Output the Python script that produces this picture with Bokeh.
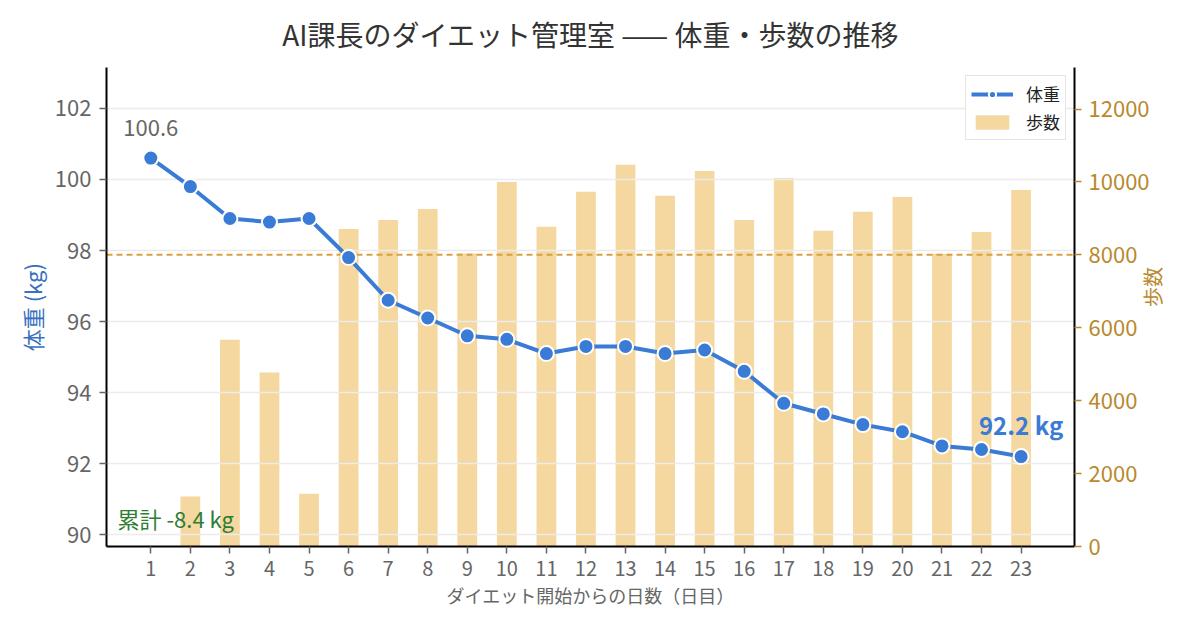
import math

from bokeh.plotting import figure
from bokeh.models import Range1d, LinearAxis, Span, Label, Legend, LegendItem, FixedTicker
from bokeh.embed import file_html
from bokeh.resources import INLINE

# data
days = list(range(1, 24))
weight = [100.6, 99.8, 98.9, 98.8, 98.9, 97.8, 96.6, 96.1, 95.6, 95.5, 95.1, 95.3,
          95.3, 95.1, 95.2, 94.6, 93.7, 93.4, 93.1, 92.9, 92.5, 92.4, 92.2]
steps = [0, 1370, 5670, 4770, 1450, 8710, 8960, 9260, 8040, 10000, 8770, 9730,
         10470, 9620, 10300, 8960, 10110, 8660, 9180, 9590, 8030, 8630, 9780]
step_goal = 8000
weight_ticks = [90, 92, 94, 96, 98, 100, 102]
step_ticks = [0, 2000, 4000, 6000, 8000, 10000, 12000]

FONT = "Noto Sans CJK JP"
BLUE = "#3a7bd5"
GOLD = "#b8892e"
GRAY = "#666666"

p = figure(width=1184, height=614,
           x_range=Range1d(-0.12, 24.35), y_range=Range1d(89.67, 103.15),
           title="AI課長のダイエット管理室 —— 体重・歩数の推移",
           output_backend="svg", toolbar_location=None,
           min_border_left=106, min_border_right=109,
           min_border_top=67, min_border_bottom=68)
p.extra_y_ranges = {"steps": Range1d(0, 13140)}
p.outline_line_color = None

p.title.align = "center"
p.title.vertical_align = "top"
p.title.text_font = FONT
p.title.text_font_size = "28px"
p.title.text_font_style = "normal"
p.title.text_color = "#333333"
p.title.standoff = 24

# bars (steps) on the right scale
bars = p.vbar(x=days, top=steps, width=0.5, y_range_name="steps",
              fill_color="#f5d8a0", line_color=None, level="image")

goal = Span(location=step_goal, dimension="width", y_range_name="steps",
            line_color="#d9a03f", line_dash="6 4", line_width=2, level="underlay")
p.add_layout(goal)

# weight line
line = p.line(days, weight, line_color=BLUE, line_width=4)
pts = p.scatter(days, weight, size=15, fill_color=BLUE, line_color="white", line_width=2)

# axes
p.xaxis.ticker = FixedTicker(ticks=days)
p.xaxis.axis_label = "ダイエット開始からの日数（日目）"
p.yaxis.ticker = FixedTicker(ticks=weight_ticks)
p.yaxis.axis_label = "体重 (kg)"

right = LinearAxis(y_range_name="steps", ticker=FixedTicker(ticks=step_ticks),
                   axis_label="歩数")
p.add_layout(right, "right")
# make the right title read bottom to top, like the left one
try:
    right.axis_label_orientation = math.pi / 2
except AttributeError:
    pass

for ax in [p.xaxis[0], p.yaxis[0], right]:
    ax.axis_line_color = "black"
    ax.axis_line_width = 2
    ax.major_tick_out = 7
    ax.major_tick_in = 0
    ax.major_tick_line_width = 1.5
    ax.minor_tick_line_color = None
    ax.major_label_text_font = FONT
    ax.major_label_text_font_size = "20px"
    ax.axis_label_text_font = FONT
    ax.axis_label_text_font_style = "normal"

p.xaxis.major_tick_line_color = GRAY
p.xaxis.major_label_text_color = GRAY
p.xaxis.major_label_standoff = 7
p.xaxis.axis_label_text_color = GRAY
p.xaxis.axis_label_text_font_size = "18px"
p.xaxis.axis_label_standoff = 3

p.yaxis.major_tick_line_color = GRAY
p.yaxis.major_label_text_color = GRAY
p.yaxis.major_label_text_font_size = "22px"
p.yaxis.major_label_standoff = 8
p.yaxis.axis_label_text_color = "#3a70c0"
p.yaxis.axis_label_text_font_size = "22px"
p.yaxis.axis_label_standoff = 4

right.major_tick_line_color = GOLD
right.major_label_text_color = GOLD
right.major_label_standoff = 7
right.axis_label_text_color = GOLD
right.axis_label_text_font_size = "20px"
right.axis_label_standoff = 0

p.xgrid.visible = False
p.ygrid.ticker = FixedTicker(ticks=weight_ticks)
p.ygrid.grid_line_color = "#ececec"
p.ygrid.grid_line_width = 1.5

# annotations
p.add_layout(Label(x=days[0], y=weight[0], text=f"{weight[0]}", text_align="center",
                   text_baseline="bottom", y_offset=22, text_font=FONT,
                   text_font_size="22px", text_color=GRAY))
p.add_layout(Label(x=days[-1], y=weight[-1], text=f"{weight[-1]} kg", text_align="center",
                   text_baseline="bottom", y_offset=15, text_font=FONT,
                   text_font_size="24px", text_font_style="bold", text_color=BLUE))
p.add_layout(Label(x=p.x_range.start, y=p.y_range.start, x_offset=11, y_offset=29,
                   text=f"累計 {weight[-1] - weight[0]:.1f} kg", text_align="left",
                   text_baseline="middle", text_font=FONT, text_font_size="22px",
                   text_color="#2e7d32"))

legend = Legend(items=[LegendItem(label="体重", renderers=[line, pts]),
                       LegendItem(label="歩数", renderers=[bars])],
                location="top_right", margin=8, padding=5, spacing=3,
                glyph_width=42, glyph_height=18, label_height=18, label_standoff=13,
                label_text_font=FONT, label_text_font_size="17px",
                label_text_color="#222222",
                border_line_color="#cccccc", border_line_width=1.5,
                background_fill_color="white", background_fill_alpha=1)
p.add_layout(legend)

open("out.html", "w").write(file_html(p, INLINE))
